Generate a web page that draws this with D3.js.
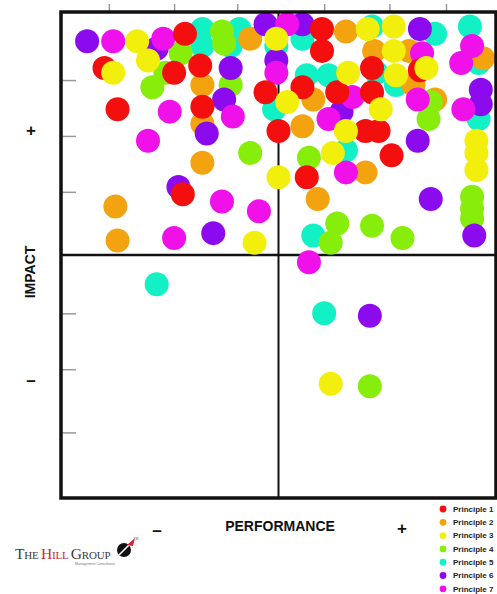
<!DOCTYPE html>
<html>
<head>
<meta charset="utf-8">
<script src="https://cdn.jsdelivr.net/npm/d3@7"></script>
<style>
  body { margin: 0; background: #fff; }
  svg { display: block; }
</style>
</head>
<body>
<svg id="chart" width="497" height="594"></svg>
<script>
// Principle names and their colours
const principles = ["Principle 1", "Principle 2", "Principle 3", "Principle 4", "Principle 5", "Principle 6", "Principle 7"];
const colors = ["#f40f0f", "#f2a30f", "#f3ef0c", "#86ee0a", "#12f0c6", "#8c0aee", "#ef10ea"];

// Scores per principle: [performance, impact], both on a -100..100 scale
const principle1 = [[-43,91],[-80,77],[-36,78],[-74,60],[-35,61],[20,93],[20,84],[11,69],[27,67],[43,67],[-6,67],
  [40,51],[46,51],[0,51],[52,41],[13,32],[-44,25],[43,77],[65,76],[-48,75]];
const principle2 = [[-13,89],[-35,70],[-35,54],[31,92],[44,84],[60,84],[62,70],[72,64],[94,81],[16,64],[11,53],
  [40,34],[18,23],[-35,38],[-75,20],[-74,6]];
const principle3 = [[-65,88],[-76,75],[-60,80],[41,93],[53,94],[53,84],[68,77],[54,74],[32,75],[4,63],[47,60],
  [31,51],[25,42],[0,32],[-11,5],[24,-53],[91,47],[91,42],[91,35],[-1,89]];
const principle4 = [[-45,83],[-52,75],[-58,69],[-26,92],[-25,87],[-22,70],[-13,42],[70,63],[69,56],[14,40],[27,13],
  [24,5],[43,12],[57,7],[89,24],[89,19],[89,15],[42,-54]];
const principle5 = [[-35,93],[-35,86],[-18,93],[-22,86],[11,89],[-1,86],[43,94],[72,91],[88,94],[92,79],[92,56],
  [13,74],[23,74],[45,75],[54,70],[-2,60],[31,43],[16,8],[-56,-12],[21,-24]];
const principle6 = [[-88,88],[-56,85],[-22,77],[-25,64],[-33,50],[-46,28],[-30,9],[-6,95],[11,95],[-1,80],[65,93],
  [29,59],[64,47],[93,68],[93,62],[70,23],[90,8],[42,-25]];
const principle7 = [[-76,88],[-53,89],[-50,59],[-21,57],[-60,47],[-26,22],[-9,18],[-48,7],[4,95],[-1,75],[34,65],
  [23,56],[66,83],[64,64],[89,86],[84,79],[85,60],[31,34],[14,-3]];

const seriesValues = [principle1, principle2, principle3, principle4, principle5, principle6, principle7];

// Tick positions along the top and left edges
const xTicks = [-78, -48, -19, 21, 51, 77];
const yTicks = [-73, -47, -24, 26, 49, 72];

// Layering of the principles (first drawn sits underneath)
const drawOrder = [4, 1, 3, 5, 6, 0, 2];

const svg = d3.select("#chart");
const x = d3.scaleLinear().domain([-100, 100]).range([61, 496]);
const y = d3.scaleLinear().domain([-100, 100]).range([498, 12]);

// Quadrant dividers
svg.append("line").attr("x1", x(0)).attr("x2", x(0)).attr("y1", y(100)).attr("y2", y(-100))
  .attr("stroke", "#111").attr("stroke-width", 2);
svg.append("line").attr("x1", x(-100)).attr("x2", x(100)).attr("y1", y(0)).attr("y2", y(0))
  .attr("stroke", "#111").attr("stroke-width", 2.5);

// Tick marks
const leftAxis = svg.append("g").attr("transform", `translate(${x(-100)},0)`)
  .call(d3.axisRight(y).tickValues(yTicks).tickSize(15).tickFormat(""));
const topAxis = svg.append("g").attr("transform", `translate(0,${y(100)})`)
  .call(d3.axisTop(x).tickValues(xTicks).tickSize(8).tickFormat(""));
[leftAxis, topAxis].forEach(g => {
  g.select(".domain").remove();
  g.selectAll(".tick line").attr("stroke", "#9a9a9a").attr("stroke-width", 1.5);
});

// Points
const points = [];
drawOrder.forEach(i => seriesValues[i].forEach(v => points.push({ s: i, px: v[0], im: v[1] })));
svg.append("g").selectAll("circle").data(points).join("circle")
  .attr("cx", d => x(d.px)).attr("cy", d => y(d.im)).attr("r", 12)
  .attr("fill", d => colors[d.s]);

// Frame
svg.append("rect")
  .attr("x", x(-100)).attr("y", y(100))
  .attr("width", x(100) - x(-100)).attr("height", y(-100) - y(100))
  .attr("fill", "none").attr("stroke", "#111").attr("stroke-width", 3.5);

// Axis labels
const bold = "Liberation Sans, Arial, sans-serif";
svg.append("text").attr("x", 31).attr("y", 136).attr("text-anchor", "middle")
  .attr("font-family", bold).attr("font-weight", "bold").attr("font-size", 17).attr("fill", "#111").text("+");
svg.append("text").attr("x", 31).attr("y", 386).attr("text-anchor", "middle")
  .attr("font-family", bold).attr("font-weight", "bold").attr("font-size", 17).attr("fill", "#111").text("–");
svg.append("text").attr("transform", "translate(35,272) rotate(-90)").attr("text-anchor", "middle")
  .attr("font-family", bold).attr("font-weight", "bold").attr("font-size", 14).attr("fill", "#111").text("IMPACT");
svg.append("text").attr("x", 280).attr("y", 531).attr("text-anchor", "middle")
  .attr("font-family", bold).attr("font-weight", "bold").attr("font-size", 14).attr("fill", "#111").text("PERFORMANCE");
svg.append("text").attr("x", 157).attr("y", 536).attr("text-anchor", "middle")
  .attr("font-family", bold).attr("font-weight", "bold").attr("font-size", 17).attr("fill", "#111").text("–");
svg.append("text").attr("x", 402).attr("y", 534).attr("text-anchor", "middle")
  .attr("font-family", bold).attr("font-weight", "bold").attr("font-size", 17).attr("fill", "#111").text("+");

// Legend
const legend = svg.append("g").selectAll("g").data(principles).join("g")
  .attr("transform", (d, i) => `translate(443,${509 + i * 13.3})`);
legend.append("circle").attr("r", 3.4).attr("fill", (d, i) => colors[i]);
legend.append("text").attr("x", 10).attr("y", 2.8)
  .attr("font-family", bold).attr("font-weight", "bold").attr("font-size", 8).attr("fill", "#222")
  .text(d => d);

// Company mark
const logo = svg.append("g");
const logoText = logo.append("text").attr("x", 15).attr("y", 559)
  .attr("font-family", "Liberation Serif, Times New Roman, serif").attr("fill", "#3a3a3a")
  .attr("letter-spacing", -0.2);
logoText.append("tspan").attr("font-size", 15.5).text("T");
logoText.append("tspan").attr("font-size", 11).text("HE ");
logoText.append("tspan").attr("font-size", 15.5).attr("fill", "#c0283c").text("H");
logoText.append("tspan").attr("font-size", 11).attr("fill", "#c0283c").text("ILL ");
logoText.append("tspan").attr("font-size", 15.5).text("G");
logoText.append("tspan").attr("font-size", 11).text("ROUP");
logo.append("text").attr("x", 95).attr("y", 564.5).attr("text-anchor", "middle")
  .attr("font-family", bold).attr("font-size", 3.5).attr("fill", "#777").text("Management Consultants");
logo.append("circle").attr("cx", 124).attr("cy", 550).attr("r", 7).attr("fill", "#111");
logo.append("line").attr("x1", 119).attr("y1", 555).attr("x2", 129).attr("y2", 545)
  .attr("stroke", "#fff").attr("stroke-width", 1.6);
logo.append("path").attr("d", "M127,545 L135,538 L133,546 Z").attr("fill", "#d8203a");
logo.append("text").attr("x", 134).attr("y", 540).attr("font-family", bold).attr("font-size", 3).attr("fill", "#555").text("TM");
</script>
</body>
</html>
